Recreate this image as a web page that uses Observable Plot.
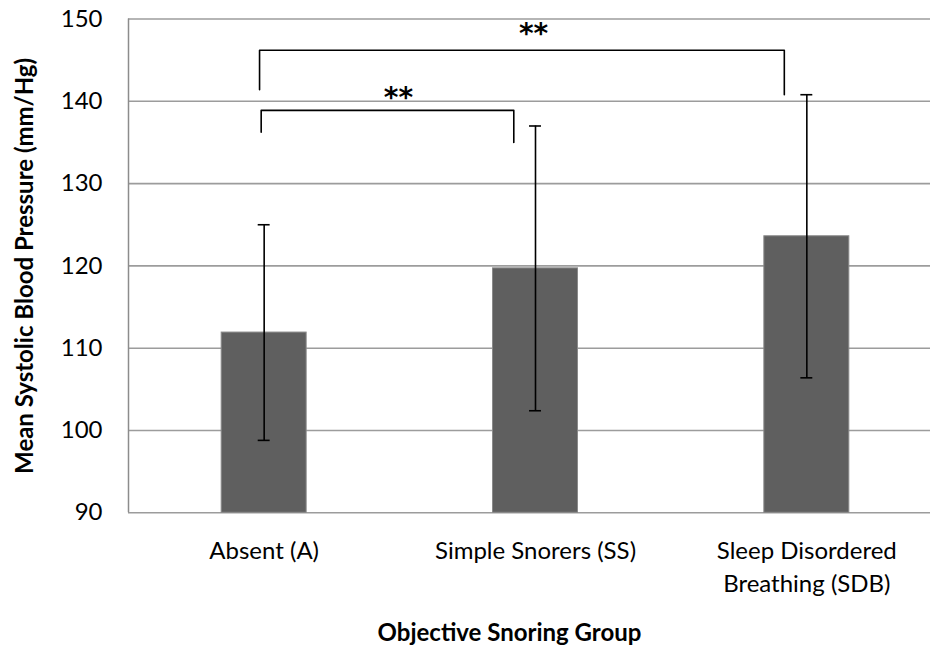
<!DOCTYPE html>
<html>
<head>
<meta charset="utf-8">
<script src="https://cdn.jsdelivr.net/npm/d3@7"></script>
<script src="https://cdn.jsdelivr.net/npm/@observablehq/plot@0.6"></script>
<style>
  html, body { margin: 0; padding: 0; background: #fff; }
  #chart { width: 930px; height: 645px; }
</style>
</head>
<body>
<div id="chart"></div>
<script>
// ---- data ----
const groups = ["Absent (A)", "Simple Snorers (SS)", "Sleep Disordered\nBreathing (SDB)"];
const means = [111.9, 119.7, 123.6];
const sds = [13.1, 17.3, 17.2];
const yTicks = [90, 100, 110, 120, 130, 140, 150];
const yTitle = "Mean Systolic Blood Pressure (mm/Hg)";
const xTitle = "Objective Snoring Group";

// significance brackets (x in group-index units, y in mm/Hg)
const lowerBracketX = [-0.011, 0.92];
const lowerBracketY = [136.25, 138.9, 135.0]; // left leg end, bar, right leg end
const upperBracketX = [-0.017, 1.917];
const upperBracketY = [141.4, 146.2, 140.8];
const starLabels = ["**", "**"];
const starX = [0.495, 0.993];
const starY = [141.1, 148.9];

// ---- derived tables ----
const idx = groups.map((_, i) => i);
const xDomain = [-0.5, 2.5];
const yDomain = [90, 150];
const barHalf = 0.1566;
const capHalf = 0.022;

const caps = idx.flatMap(i => [
  {i, v: means[i] + sds[i]},
  {i, v: means[i] - sds[i]}
]);

function bracketPoints(name, bx, by) {
  return [
    {b: name, x: bx[0], y: by[0]},
    {b: name, x: bx[0], y: by[1]},
    {b: name, x: bx[1], y: by[1]},
    {b: name, x: bx[1], y: by[2]}
  ];
}
const bracketData = [
  ...bracketPoints("lower", lowerBracketX, lowerBracketY),
  ...bracketPoints("upper", upperBracketX, upperBracketY)
];
const stars = starLabels.map((t, k) => ({t, x: starX[k], y: starY[k]}));

const chart = Plot.plot({
  width: 930,
  height: 645,
  marginLeft: 128,
  marginRight: 0,
  marginTop: 18.5,
  marginBottom: 132.7,
  style: {fontFamily: "Lato, 'Open Sans', sans-serif", fontSize: "24px", background: "#fff", color: "#000"},
  x: {domain: xDomain, range: [128, 942], axis: null},
  y: {domain: yDomain, axis: null},
  marks: [
    Plot.ruleY(yTicks, {stroke: "#9c9c9c", strokeWidth: 1.6}),
    Plot.ruleX([xDomain[0]], {y1: () => yDomain[0], y2: () => yDomain[1], stroke: "#8c8c8c", strokeWidth: 1.5}),
    Plot.rect(idx, {
      x1: i => i - barHalf,
      x2: i => i + barHalf,
      y1: () => yDomain[0],
      y2: i => means[i],
      fill: "#5f5f5f",
      stroke: "#8a8a8a",
      strokeWidth: 1
    }),
    Plot.ruleX(idx, {x: i => i, y1: i => means[i] - sds[i], y2: i => means[i] + sds[i], stroke: "#000", strokeWidth: 1.6}),
    Plot.ruleY(caps, {y: "v", x1: d => d.i - capHalf, x2: d => d.i + capHalf, stroke: "#000", strokeWidth: 1.6}),
    Plot.line(bracketData, {x: "x", y: "y", z: "b", stroke: "#000", strokeWidth: 1.6}),
    Plot.text(stars, {x: "x", y: "y", text: "t", fontSize: 28, fontWeight: "bold", fontFamily: "DejaVu Sans", lineAnchor: "middle", dy: 6}),
    Plot.text(yTicks, {y: d => d, text: d => String(d), frameAnchor: "left", textAnchor: "end", lineAnchor: "middle", dx: -26, fontSize: 24}),
    Plot.text(idx, {x: i => i, text: i => groups[i], frameAnchor: "bottom", textAnchor: "middle", lineAnchor: "top", dy: 22, lineHeight: 1.4, fontSize: 24}),
    Plot.text([yTitle], {text: d => d, frameAnchor: "left", textAnchor: "middle", lineAnchor: "middle", rotate: -90, dx: -103, fontWeight: "bold", fontSize: 24}),
    Plot.text([xTitle], {text: d => d, frameAnchor: "bottom", textAnchor: "middle", lineAnchor: "middle", dy: 120.5, dx: -20, fontWeight: "bold", fontSize: 24})
  ]
});
document.getElementById("chart").appendChild(chart);
</script>
</body>
</html>
